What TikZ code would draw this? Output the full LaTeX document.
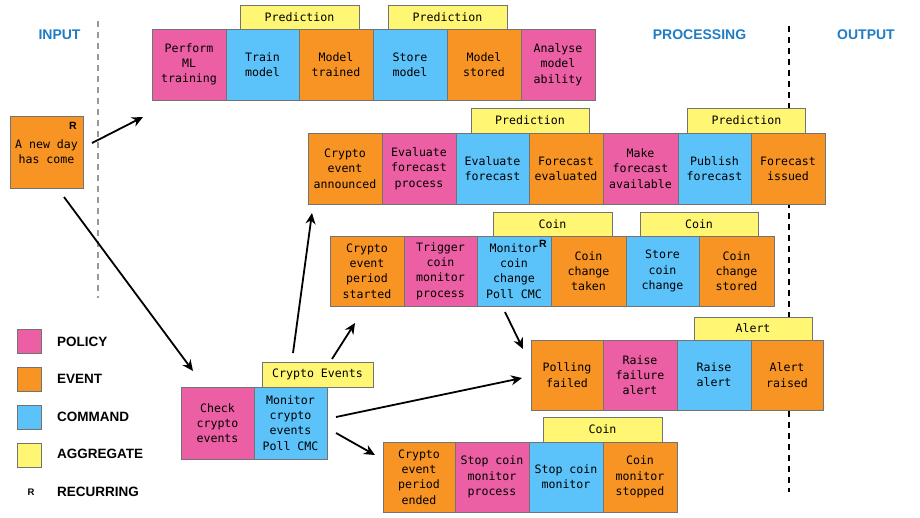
\documentclass[tikz,border=0pt]{standalone}
\usepackage{fontspec}
\setmainfont{Liberation Sans}
\newfontfamily\boxfont{DejaVu Sans Mono}
\usetikzlibrary{arrows.meta}
\definecolor{cpol}{RGB}{236,95,164}
\definecolor{cevt}{RGB}{247,148,36}
\definecolor{ccmd}{RGB}{91,195,250}
\definecolor{cagg}{RGB}{255,247,115}
\definecolor{chead}{RGB}{30,125,196}
\begin{document}
\begin{tikzpicture}[x=1pt,y=-1pt,
  card/.style={draw=black!55, line width=0.7pt, inner sep=0pt, align=center,
    font=\boxfont\fontsize{11.6}{15.3}\selectfont, minimum height=71pt, minimum width=74pt},
  policy/.style={card, fill=cpol},
  event/.style={card, fill=cevt},
  command/.style={card, fill=ccmd},
  aggr/.style={card, fill=cagg, minimum height=24pt, minimum width=119pt},
  head/.style={font=\bfseries\fontsize{14}{16}\selectfont, text=chead, inner sep=0pt},
  legsq/.style={draw=black!55, line width=0.6pt, minimum width=24pt, minimum height=24pt, inner sep=0pt},
  legtxt/.style={anchor=west, font=\bfseries\fontsize{13.5}{15}\selectfont, inner sep=0pt},
  rmark/.style={font=\bfseries\fontsize{10.5}{12}\selectfont, inner sep=0pt},
  flow/.style={line width=1.8pt, -{Stealth[length=11pt,width=10pt]}},
  sep/.style={line width=1.2pt, dash pattern=on 6pt off 5pt},
]
\useasboundingbox (0,0) rectangle (920,517);

% headers
\node[head] (hin) at (59.5,35) {INPUT};
\node[head] (hproc) at (699.5,35) {PROCESSING};
\node[head] (hout) at (866,35) {OUTPUT};

% separators
\draw[sep, draw=black!40] (98,21) -- (98,298);
\draw[sep, draw=black] (789,26) -- (789,492);

% input
\node[event, minimum width=73pt, minimum height=72pt] (newday) at (46.5,152) {A new day\\has come};
\node[rmark] (rnd) at (73,126) {R};

% row 1
\node[aggr] (pred1) at (299.5,17) {Prediction};
\node[aggr] (pred2) at (447.5,17) {Prediction};
\node[policy] (perform) at (189,64.5) {Perform\\ML\\training};
\node[command, minimum width=73pt] (train) at (262.5,64.5) {Train\\model};
\node[event] (mtrained) at (336,64.5) {Model\\trained};
\node[command] (store) at (410,64.5) {Store\\model};
\node[event] (mstored) at (484,64.5) {Model\\stored};
\node[policy] (analyse) at (558,64.5) {Analyse\\model\\ability};

% row 2
\node[aggr, minimum width=118pt, minimum height=25pt] (pred3) at (530,120.5) {Prediction};
\node[aggr, minimum width=118pt, minimum height=25pt] (pred4) at (746.5,120.5) {Prediction};
\node[event] (announced) at (345,168.5) {Crypto\\event\\announced};
\node[policy] (evalproc) at (419,168.5) {Evaluate\\forecast\\process};
\node[command, minimum width=73pt] (evalfc) at (492.5,168.5) {Evaluate\\forecast};
\node[event] (fceval) at (566,168.5) {Forecast\\evaluated};
\node[policy, minimum width=75pt] (makefc) at (640.5,168.5) {Make\\forecast\\available};
\node[command, minimum width=73pt] (publish) at (714.5,168.5) {Publish\\forecast};
\node[event] (issued) at (788,168.5) {Forecast\\issued};

% row 3
\node[aggr] (coin1) at (552.5,224) {Coin};
\node[aggr, minimum width=118pt] (coin2) at (699,224) {Coin};
\node[event, minimum height=70pt] (started) at (367,271) {Crypto\\event\\period\\started};
\node[policy, minimum height=70pt, minimum width=73pt] (trigger) at (440.5,271) {Trigger\\coin\\monitor\\process};
\node[command, minimum height=70pt] (moncoin) at (514,271) {Monitor\\coin\\change\\Poll CMC};
\node[rmark] (rmc) at (543,244) {R};
\node[event, minimum height=70pt, minimum width=75pt] (taken) at (588.5,271) {Coin\\change\\taken};
\node[command, minimum height=70pt, minimum width=73pt] (storecoin) at (662.5,271) {Store\\coin\\change};
\node[event, minimum height=70pt, minimum width=75pt] (cstored) at (736.5,271) {Coin\\change\\stored};

% row 4
\node[aggr, minimum height=23pt, minimum width=118pt] (alert) at (753,328.5) {Alert};
\node[event, minimum height=70pt, minimum width=72pt] (polling) at (567,375) {Polling\\failed};
\node[policy, minimum height=70pt] (raisefail) at (640,375) {Raise\\failure\\alert};
\node[command, minimum height=70pt] (raise) at (714,375) {Raise\\alert};
\node[event, minimum height=70pt, minimum width=72pt] (raised) at (787,375) {Alert\\raised};

% crypto events
\node[aggr, minimum width=111pt, minimum height=25pt] (cevents) at (317.5,374.5) {Crypto Events};
\node[policy, minimum height=72pt, minimum width=73pt] (check) at (217.5,423) {Check\\crypto\\events};
\node[command, minimum height=72pt, minimum width=73pt] (monce) at (290.5,423) {Monitor\\crypto\\events\\Poll CMC};

% row 5
\node[aggr, minimum height=25pt] (coin3) at (602.5,429.5) {Coin};
\node[event, minimum height=70pt, minimum width=72pt] (ended) at (419,477) {Crypto\\event\\period\\ended};
\node[policy, minimum height=70pt] (stopproc) at (492,477) {Stop coin\\monitor\\process};
\node[command, minimum height=70pt] (stopcoin) at (566,477) {Stop coin\\monitor};
\node[event, minimum height=70pt] (stopped) at (640,477) {Coin\\monitor\\stopped};

% legend
\node[legsq, fill=cpol] (lpol) at (29,341.5) {};
\node[legsq, fill=cevt] (levt) at (29,379) {};
\node[legsq, fill=ccmd] (lcmd) at (29,417.5) {};
\node[legsq, fill=cagg] (lagg) at (29,455) {};
\node[rmark, font=\bfseries\fontsize{9.5}{11}\selectfont] (lr) at (31,492) {R};
\node[legtxt] (tpol) at (57,342) {POLICY};
\node[legtxt] (tevt) at (57,379) {EVENT};
\node[legtxt] (tcmd) at (57,417) {COMMAND};
\node[legtxt] (tagg) at (57,454) {AGGREGATE};
\node[legtxt] (trec) at (57,492) {RECURRING};

% connector end points
\coordinate (a1s) at (92,143);   \coordinate (a1e) at (143,117);
\coordinate (a2s) at (64,197);   \coordinate (a2e) at (193,371);
\coordinate (a3s) at (293,353);  \coordinate (a3e) at (312,213);
\coordinate (a4s) at (332,359);  \coordinate (a4e) at (355,323);
\coordinate (a5s) at (336,417);  \coordinate (a5e) at (522,378);
\coordinate (a6s) at (336,433);  \coordinate (a6e) at (375,455);
\coordinate (a7s) at (505,312);  \coordinate (a7e) at (523,349);

\draw[flow] (a1s) -- (a1e);
\draw[flow] (a2s) -- (a2e);
\draw[flow] (a3s) -- (a3e);
\draw[flow] (a4s) -- (a4e);
\draw[flow] (a5s) -- (a5e);
\draw[flow] (a6s) -- (a6e);
\draw[flow] (a7s) -- (a7e);
\end{tikzpicture}
\end{document}
